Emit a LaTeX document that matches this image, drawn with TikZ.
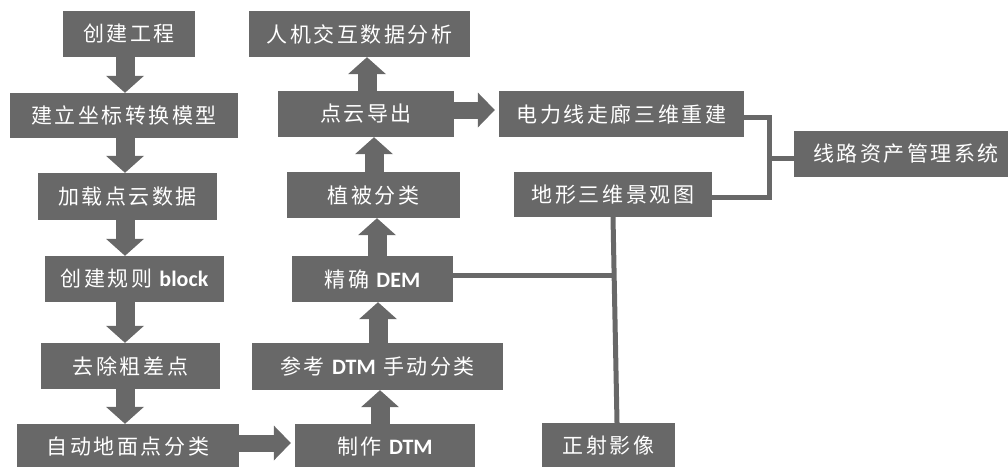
\documentclass[tikz,border=0pt]{standalone}
\usepackage{fontspec}
\newfontfamily\cjkf{Noto Sans CJK SC}[LetterSpace=12]
\newfontfamily\latf{Carlito}
\usetikzlibrary{arrows.meta}
\definecolor{gr}{RGB}{104,104,104}
\newcommand\lt[1]{{\latf\bfseries\fontsize{22}{26}\selectfont #1}}
\begin{document}
\begin{tikzpicture}[x=1pt,y=-1pt,
  box/.style={fill=gr, text=white, inner sep=0pt, font=\cjkf\fontsize{21}{25}\selectfont},
  barrow/.style={draw=gr, line width=19pt, -{Triangle[width=38pt,length=17pt,line width=0pt]}},
  harrow/.style={draw=gr, line width=17pt, shorten >=4pt, -{Triangle[width=35pt,length=17pt,line width=0pt]}},
  conn/.style={draw=gr, line width=5pt}]
\useasboundingbox (0,0) rectangle (1008,466);
\clip (0,0) rectangle (1008,466);
% left column
\node[box, minimum width=132pt, minimum height=46pt] (a1) at (129,34) {创建工程};
\node[box, minimum width=228pt, minimum height=45pt] (a2) at (124,115.5) {建立坐标转换模型};
\node[box, minimum width=179pt, minimum height=47pt] (a3) at (127.5,196.5) {加载点云数据};
\node[box, minimum width=179pt, minimum height=46pt] (a4) at (134.5,279) {创建规则 \lt{block}};
\node[box, minimum width=179pt, minimum height=46pt] (a5) at (130.5,366) {去除粗差点};
\node[box, minimum width=222pt, minimum height=46pt] (a6) at (128,447) {自动地面点分类};
% middle column
\node[box, minimum width=221pt, minimum height=46pt] (b1) at (359.5,34) {人机交互数据分析};
\node[box, minimum width=176pt, minimum height=46pt] (b2) at (366,114) {点云导出};
\node[box, minimum width=173pt, minimum height=46pt] (b3) at (373.5,195) {植被分类};
\node[box, minimum width=161pt, minimum height=46pt] (b4) at (372.5,279) {精确 \lt{DEM}};
\node[box, minimum width=251pt, minimum height=47pt] (b5) at (377.5,366.5) {参考 \lt{DTM} 手动分类};
\node[box, minimum width=180pt, minimum height=46pt] (b6) at (385,447) {制作 \lt{DTM}};
% right
\node[box, minimum width=245pt, minimum height=46pt] (c1) at (621.5,114) {电力线走廊三维重建};
\node[box, minimum width=198pt, minimum height=45pt] (c2) at (613,194.5) {地形三维景观图};
\node[box, minimum width=224pt, minimum height=46pt] (c3) at (906,154) {线路资产管理系统};
\node[box, minimum width=133pt, minimum height=46pt] (c4) at (608.5,446) {正射影像};
% left arrows
\coordinate (lx) at (125,0);
\draw[barrow] (a1.south -| lx) -- (a2.north -| lx);
\draw[barrow] (a2.south -| lx) -- (a3.north -| lx);
\draw[barrow] (a3.south -| lx) -- (a4.north -| lx);
\draw[barrow] (a4.south -| lx) -- (a5.north -| lx);
\draw[barrow] (a5.south -| lx) -- (a6.north -| lx);
% middle arrows (upwards)
\coordinate (m1) at (367,0);
\coordinate (m2) at (374,0);
\coordinate (m3) at (377,0);
\coordinate (m4) at (378,0);
\coordinate (m5) at (380,0);
\draw[barrow] (b2.north -| m1) -- (b1.south -| m1);
\draw[barrow] (b3.north -| m2) -- (b2.south -| m2);
\draw[barrow] (b4.north -| m3) -- (b3.south -| m3);
\draw[barrow] (b5.north -| m4) -- (b4.south -| m4);
\draw[barrow] (b6.north -| m5) -- (b5.south -| m5);
% horizontal arrows
\coordinate (hy1) at (0,443);
\coordinate (hy2) at (0,110);
\draw[harrow] (a6.east |- hy1) -- (b6.west |- hy1);
\draw[harrow] (b2.east |- hy2) -- (c1.west |- hy2);
% plain connectors
\coordinate (j1) at (614,275.5);
\coordinate (v1) at (613,0);
\coordinate (v2) at (617,0);
\draw[conn] (b4.east |- j1) -- (j1);
\draw[conn] (c2.south -| v1) -- (c4.north -| v2);
\coordinate (k1) at (769,117.5);
\coordinate (k2) at (769,197.5);
\coordinate (k3) at (769,158);
\draw[conn] (c1.east |- k1) -- (k1) -- (k2) -- (c2.east |- k2);
\draw[conn] (k3) -- (c3.west |- k3);
\end{tikzpicture}
\end{document}
